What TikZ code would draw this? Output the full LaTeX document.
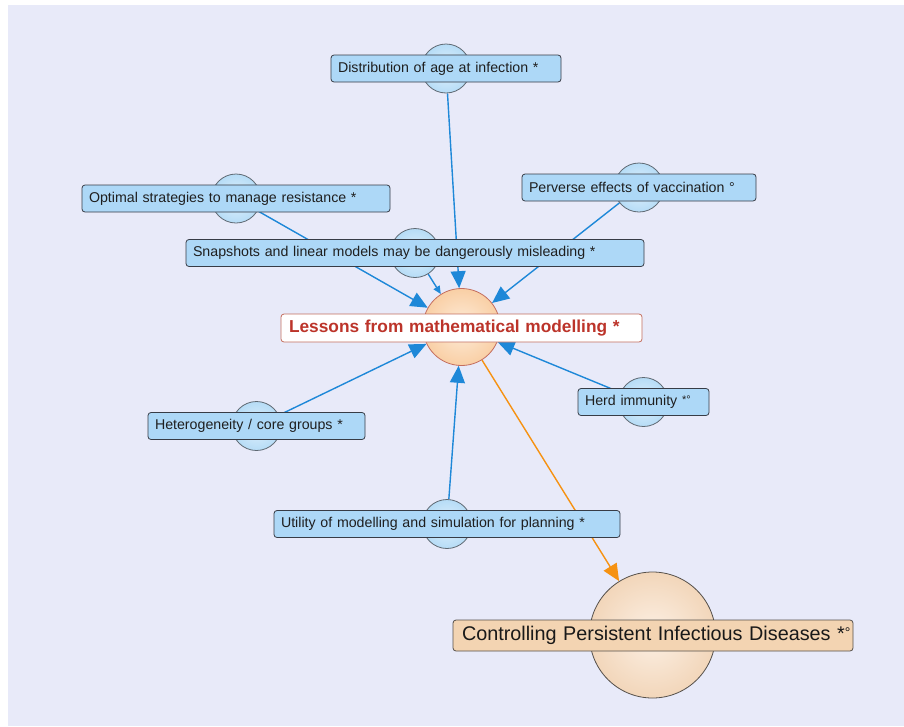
\documentclass[tikz,border=0pt]{standalone}
\usepackage{fontspec}
\setmainfont{Liberation Sans}
\usetikzlibrary{arrows.meta}
\pgfdeclarelayer{bg}
\pgfdeclarelayer{edges}
\pgfsetlayers{bg,edges,main}
\definecolor{pagebg}{RGB}{232,234,249}
\definecolor{boxfill}{RGB}{173,216,247}
\definecolor{boxborder}{RGB}{55,60,70}
\definecolor{circin}{RGB}{226,241,253}
\definecolor{circout}{RGB}{182,220,246}
\definecolor{circborder}{RGB}{95,105,115}
\definecolor{lessin}{RGB}{253,236,218}
\definecolor{lessout}{RGB}{249,207,165}
\definecolor{lessborder}{RGB}{195,110,95}
\definecolor{lesstext}{RGB}{188,52,42}
\definecolor{ctrlin}{RGB}{252,240,228}
\definecolor{ctrlout}{RGB}{242,214,186}
\definecolor{ctrlborder}{RGB}{85,80,75}
\definecolor{ctrlbox}{RGB}{243,212,178}
\definecolor{lineblue}{RGB}{30,136,216}
\definecolor{lineorange}{RGB}{246,146,18}
\tikzset{
  lbl/.style={draw=boxborder, fill=boxfill, rounded corners=3pt, line width=0.8pt,
    minimum height=27pt, inner xsep=7pt, inner ysep=0pt, text width=#1pt, align=left,
    font=\fontsize{14.2}{16}\selectfont, text={black!88}},
  dot/.style={circle, draw=circborder, line width=0.8pt, inner color=circin, outer color=circout,
    minimum size=49pt, inner sep=0pt},
  edge/.style={draw=lineblue, line width=1.4pt, -{Triangle[length=17pt,width=15pt]}},
  smalledge/.style={draw=lineblue, line width=1.4pt, -{Triangle[length=8pt,width=7pt]}},
  oedge/.style={draw=lineorange, line width=1.4pt, -{Triangle[length=17pt,width=15pt]}}
}
\begin{document}
\begin{tikzpicture}[x=1pt,y=-1pt]
\useasboundingbox (0,0) rectangle (904,726);
\begin{pgfonlayer}{bg}
\fill[white] (0,0) rectangle (904,726);
\fill[pagebg] (8,5) rectangle (904,726);
\end{pgfonlayer}
% circles
\node[dot] (c1) at (446,68.5) {};
\node[dot] (c2) at (639,187.5) {};
\node[dot] (c3) at (236,198.5) {};
\node[dot] (c4) at (415,253) {};
\node[circle, draw=lessborder, line width=0.8pt, inner color=lessin, outer color=lessout,
  minimum size=77pt, inner sep=0pt] (c5) at (461.5,327) {};
\node[dot] (c6) at (643.5,402) {};
\node[dot] (c7) at (256.5,426) {};
\node[dot] (c8) at (447,524) {};
\node[circle, draw=ctrlborder, line width=0.8pt, inner color=ctrlin, outer color=ctrlout,
  minimum size=126pt, inner sep=0pt] (c9) at (652.5,635) {};
% boxes
\node[lbl=216] (b1) at (446,68.5) {Distribution of age at infection *};
\node[lbl=220] (b2) at (639,187.5) {Perverse effects of vaccination °};
\node[lbl=294] (b3) at (236,198.5) {Optimal strategies to manage resistance *};
\node[lbl=444] (b4) at (415,253) {\mbox{Snapshots and linear models may be dangerously misleading *}};
\node[draw=lessborder, fill=white, rounded corners=3pt, line width=0.8pt,
  minimum height=28pt, inner xsep=8pt, inner ysep=0pt, text width=345pt, align=left,
  font=\bfseries\fontsize{17.3}{19}\selectfont, text=lesstext] (b5) at (461.5,328)
  {\mbox{Lessons from mathematical modelling *}};
\node[lbl=117] (b6) at (643.5,402) {\mbox{Herd immunity \raisebox{2pt}{\fontsize{11}{11}\selectfont *°}}};
\node[lbl=203] (b7) at (256.5,426) {Heterogeneity / core groups *};
\node[lbl=332] (b8) at (447,524) {\mbox{Utility of modelling and simulation for planning *}};
\node[draw=ctrlborder, fill=ctrlbox, rounded corners=3pt, line width=0.8pt,
  minimum height=31pt, inner xsep=9pt, inner ysep=0pt, text width=382pt, align=left,
  font=\fontsize{19.8}{21}\selectfont, text={black!90}] (b9) at (653,635.5)
  {\mbox{Controlling Persistent Infectious Diseases *\raisebox{3pt}{\fontsize{14}{14}\selectfont °}}};
% edges
\begin{pgfonlayer}{edges}
\draw[edge] (c1) -- (c5);
\draw[edge] (c2) -- (c5);
\draw[edge] (c3) -- (c5);
\draw[smalledge] (c4) -- (c5);
\draw[edge] (c6) -- (c5);
\draw[edge] (c7) -- (c5);
\draw[edge] (c8) -- (c5);
\draw[oedge] (c5) -- (c9);
\end{pgfonlayer}
\end{tikzpicture}
\end{document}
